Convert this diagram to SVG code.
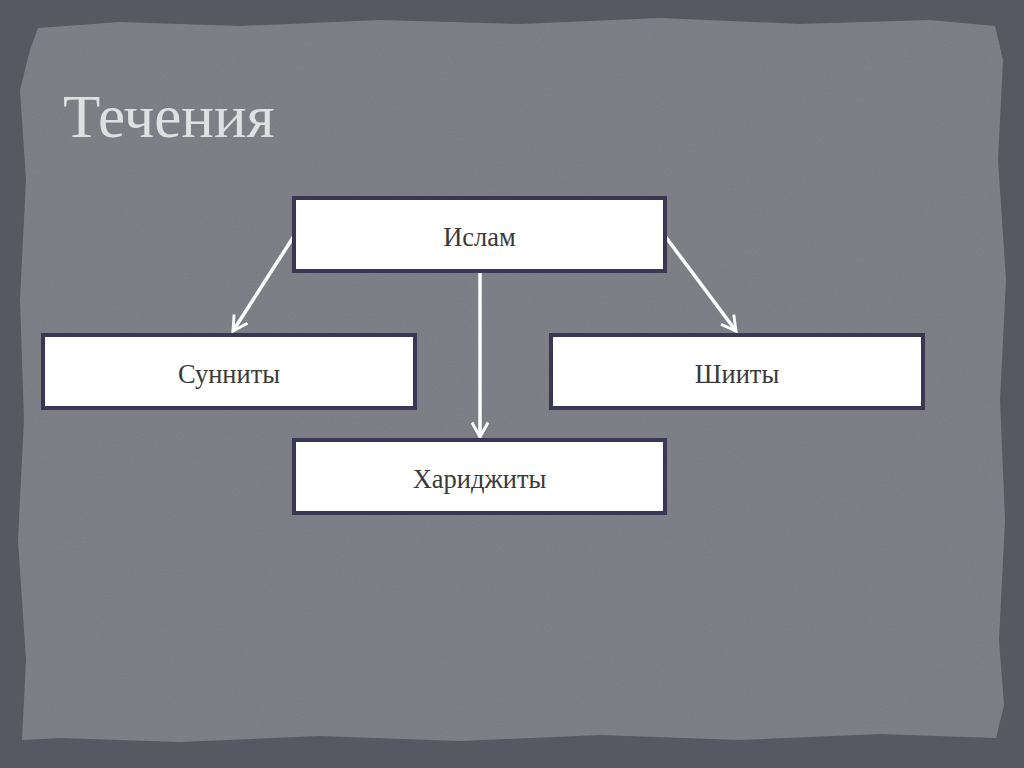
<svg xmlns="http://www.w3.org/2000/svg" width="1024" height="768" viewBox="0 0 1024 768">
<defs>
<style>
.box{fill:#ffffff;stroke:#3b3654;stroke-width:4}
.lbl{font-family:"Liberation Serif","DejaVu Serif",serif;font-size:26.5px;fill:#3a3a3a;text-anchor:middle}
.con{stroke:#ffffff;stroke-width:3.5;fill:none;marker-end:url(#arr)}
</style>
<marker id="arr" viewBox="0 0 12 12" refX="10" refY="6" markerWidth="5.5" markerHeight="5.5" orient="auto" markerUnits="strokeWidth">
<path d="M1,1 L10,6 L1,11" fill="none" stroke="#ffffff" stroke-width="1.8"/>
</marker>
<filter id="grain" x="0" y="0" width="100%" height="100%">
<feTurbulence type="fractalNoise" baseFrequency="0.9" numOctaves="2" seed="3" result="n"/>
<feColorMatrix in="n" type="matrix" values="0 0 0 0 0.5  0 0 0 0 0.5  0 0 0 0 0.52  0 0 0 0.12 0" result="g"/>
<feComposite in="g" in2="SourceGraphic" operator="in" result="gg"/>
<feMerge><feMergeNode in="SourceGraphic"/><feMergeNode in="gg"/></feMerge>
</filter>
</defs>
<rect x="0" y="0" width="1024" height="768" fill="#585864"/>
<path d="M38,28 L120,22 L240,26 L380,20 L520,24 L660,18 L800,24 L930,20 L995,26 L1003,60 L998,160 L1006,280 L1000,400 L1005,520 L999,640 L1004,705 L996,738 L880,734 L740,740 L600,735 L460,741 L320,736 L180,742 L60,738 L22,740 L26,660 L18,540 L24,420 L20,300 L26,180 L20,90 L30,50 Z" fill="#787982" filter="url(#grain)"/>
<text x="63" y="137" font-family="'Liberation Serif','DejaVu Serif',serif" font-size="61" fill="#e0e0e2">Течения</text>
<g id="connectors">
<line class="con" x1="294" y1="236" x2="233" y2="331"/>
<line class="con" x1="665" y1="236" x2="736" y2="331"/>
<line class="con" x1="480" y1="272" x2="480" y2="437"/>
</g>
<g id="islam">
<rect class="box" x="294" y="198" width="371" height="73"/>
<text class="lbl" x="479.5" y="246">Ислам</text>
</g>
<g id="sunni">
<rect class="box" x="43" y="335" width="372" height="73"/>
<text class="lbl" x="229" y="383">Сунниты</text>
</g>
<g id="shia">
<rect class="box" x="551" y="335" width="372" height="73"/>
<text class="lbl" x="737" y="383">Шииты</text>
</g>
<g id="kharijites">
<rect class="box" x="294" y="440" width="371" height="73"/>
<text class="lbl" x="479.5" y="488">Хариджиты</text>
</g>
</svg>
